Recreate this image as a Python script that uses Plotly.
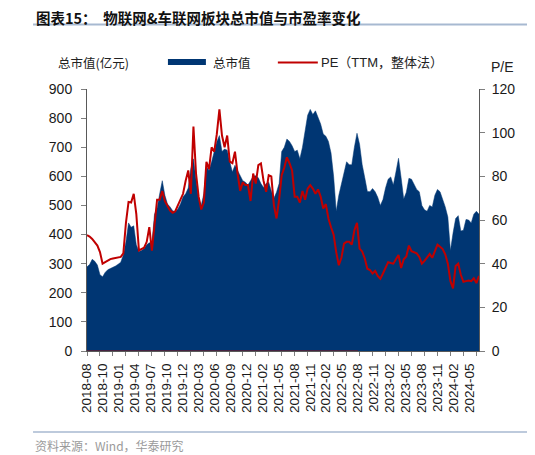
import plotly.graph_objects as go

# ---- data ----
date_labels = ["2018-08", "2018-10", "2019-01", "2019-04", "2019-07", "2019-10",
               "2019-12", "2020-03", "2020-06", "2020-09", "2020-12", "2021-02",
               "2021-05", "2021-08", "2021-11", "2022-02", "2022-05", "2022-08",
               "2022-11", "2023-02", "2023-05", "2023-08", "2023-11", "2024-02",
               "2024-05"]

market_cap = [
    289, 297, 315, 308, 295, 262, 255, 270, 279, 283,
    288, 292, 298, 305, 330, 375, 440, 425, 430, 365,
    342, 345, 352, 365, 372, 368, 470, 490, 540, 585,
    535, 505, 495, 482, 478, 488, 505, 530, 540, 560,
    627, 660, 590, 524, 500, 540, 635, 620, 650, 690,
    719, 740, 685, 694, 690, 650, 615, 638, 620, 600,
    585, 580, 570, 585, 600, 602, 595, 575, 562, 575,
    580, 550, 525, 545, 575, 685, 700, 728, 720, 705,
    685, 690, 660, 700, 760, 810, 830, 812, 825, 805,
    780, 745, 738, 720, 680, 600, 480, 535, 570, 615,
    650, 640, 640, 700, 748, 710, 640, 595, 548, 547,
    558, 547, 528, 500, 520, 560, 590, 598, 570, 615,
    662, 595, 522, 545, 593, 590, 575, 555, 547, 500,
    485, 480, 500, 495, 535, 555, 547, 522, 495, 460,
    345, 405, 455, 465, 412, 415, 452, 450, 440, 470,
    480, 470]

pe_ttm = [
    53.1, 52.4, 51.3, 49.6, 48.3, 45.3, 40.0, 40.7, 41.6, 42.1,
    42.4, 42.7, 42.9, 43.1, 44.7, 58.7, 68.3, 68.0, 72.0, 62.7,
    46.1, 46.7, 47.3, 50.0, 56.7, 46.0, 58.0, 69.3, 69.3, 73.3,
    68.7, 66.7, 64.3, 63.3, 64.0, 66.7, 69.1, 72.0, 78.0, 82.7,
    72.0, 102.8, 81.3, 70.7, 64.8, 68.0, 86.7, 83.3, 93.3, 91.3,
    99.3, 110.7, 98.7, 93.3, 98.7, 86.7, 86.0, 91.3, 81.3, 73.3,
    77.3, 76.0, 76.0, 68.7, 81.3, 76.7, 85.1, 85.9, 78.0, 72.9,
    80.5, 80.0, 66.7, 60.7, 69.3, 80.5, 84.0, 88.7, 86.0, 82.7,
    70.7, 70.7, 68.0, 73.3, 69.3, 74.4, 76.0, 74.4, 72.0, 74.0,
    70.7, 65.3, 67.3, 60.7, 56.7, 53.3, 45.3, 39.3, 42.7, 49.2,
    50.0, 50.0, 48.7, 55.3, 58.7, 46.9, 45.6, 42.4, 37.7, 37.1,
    35.5, 36.7, 34.4, 33.1, 35.5, 38.0, 40.7, 40.3, 40.0, 42.0,
    44.0, 38.0, 42.0, 43.3, 48.3, 45.7, 45.3, 44.7, 43.1, 40.0,
    41.3, 43.1, 44.4, 42.7, 46.0, 48.7, 47.7, 46.7, 44.3, 40.0,
    32.0, 28.7, 38.9, 40.0, 34.9, 31.7, 32.0, 32.3, 32.0, 33.3,
    31.1, 34.4]

cap_ticks = [0, 100, 200, 300, 400, 500, 600, 700, 800, 900]
pe_ticks = [0, 20, 40, 60, 80, 100, 120]

# ---- style ----
BLUE = "#003673"
RED = "#C00000"
AXIS = "#595959"
TICK = "#7f7f7f"
FONT = "Liberation Sans, Arial, Noto Sans CJK SC, sans-serif"
CJK = "Noto Sans CJK SC, sans-serif"

# page has an 8px body margin: the figure starts at (8, 8) in the window
OFF = 8
W, H = 535 - OFF, 455 - OFF
ML, MR, MT, MB = 87 - OFF, 55.7, 89 - OFF, 104
PW, PH = W - ML - MR, H - MT - MB

def fx(px):
    return (px - OFF - ML) / PW

def fy(py):
    return (H - MB - (py - OFF)) / PH

# x positions: trading-day index, sampled every 10 days
step = 10
xs = [i * step for i in range(len(market_cap))]
label_step = 61.4
tickvals = [k * label_step for k in range(len(date_labels))]

fig = go.Figure()
fig.add_trace(go.Scatter(
    x=xs, y=market_cap, mode="lines", fill="tozeroy",
    line=dict(color=BLUE, width=0.5), fillcolor=BLUE,
    name="总市值", showlegend=False, yaxis="y"))
fig.add_trace(go.Scatter(
    x=xs, y=pe_ttm, mode="lines",
    line=dict(color=RED, width=2),
    name="PE（TTM，整体法）", showlegend=False, yaxis="y2"))

fig.update_layout(
    width=W, height=H,
    margin=dict(l=ML, r=MR, t=MT, b=MB, pad=0),
    paper_bgcolor="white", plot_bgcolor="white",
    font=dict(family=FONT, color="#1a1a1a", size=14),
    xaxis=dict(
        range=[xs[0], xs[-1]], tickmode="array", tickvals=tickvals,
        ticktext=date_labels, tickangle=-90, ticks="",
        tickfont=dict(size=13.5, family=FONT, color="#1a1a1a"),
        showline=True, linecolor=AXIS, linewidth=1,
        showgrid=False, zeroline=False, ticklabelstandoff=6,
        minor=dict(tickmode="linear", tick0=0, dtick=50, ticks="outside",
                   ticklen=4, tickcolor=TICK, tickwidth=1, showgrid=False),
    ),
    yaxis=dict(
        range=[0, 900], tickmode="array", tickvals=cap_ticks,
        ticks="outside", ticklen=5, tickcolor=TICK,
        showline=True, linecolor=AXIS, linewidth=1,
        showgrid=False, zeroline=False,
        tickfont=dict(size=14, family=FONT, color="#1a1a1a"),
        ticklabelstandoff=6,
    ),
    yaxis2=dict(
        range=[0, 120], tickmode="array", tickvals=pe_ticks,
        overlaying="y", side="right",
        ticks="outside", ticklen=5, tickcolor=TICK,
        showline=True, linecolor=AXIS, linewidth=1,
        showgrid=False, zeroline=False,
        tickfont=dict(size=14, family=FONT, color="#1a1a1a"),
        ticklabelstandoff=4,
    ),
)

shapes = [
    # title underline
    dict(type="line", xref="paper", yref="paper", x0=fx(33), x1=fx(530),
         y0=fy(24.5), y1=fy(24.5), line=dict(color="#A7B9D1", width=2)),
    # footer line
    dict(type="line", xref="paper", yref="paper", x0=fx(33), x1=fx(530),
         y0=fy(432), y1=fy(432), line=dict(color="#A7B9D1", width=1.5)),
    # legend: area swatch
    dict(type="rect", xref="paper", yref="paper", x0=fx(168), x1=fx(206),
         y0=fy(65), y1=fy(59), fillcolor=BLUE, line=dict(width=0)),
    # legend: line swatch
    dict(type="line", xref="paper", yref="paper", x0=fx(278), x1=fx(318),
         y0=fy(62.5), y1=fy(62.5), line=dict(color=RED, width=2)),
    # dark red trace along the zero line (up to the 2022-08 label)
    dict(type="line", xref="x", yref="y", x0=xs[0], x1=tickvals[17],
         y0=0, y1=0, layer="above", line=dict(color="#8B1010", width=1.2)),
]

annotations = [
    dict(text="<b>图表15：  物联网&车联网板块总市值与市盈率变化</b>",
         xref="paper", yref="paper", x=fx(35), y=fy(17.5),
         xanchor="left", yanchor="middle", showarrow=False, borderpad=0,
         font=dict(family=CJK, size=14.5, color="#111111")),
    dict(text="总市值(亿元)", xref="paper", yref="paper", x=fx(56), y=fy(62),
         xanchor="left", yanchor="middle", showarrow=False,
         font=dict(family=CJK, size=12.5, color="#222222")),
    dict(text="总市值", xref="paper", yref="paper", x=fx(211), y=fy(62),
         xanchor="left", yanchor="middle", showarrow=False,
         font=dict(family=CJK, size=12.5, color="#222222")),
    dict(text="PE（TTM，整体法）", xref="paper", yref="paper", x=fx(319), y=fy(62),
         xanchor="left", yanchor="middle", showarrow=False,
         font=dict(family=FONT, size=13, color="#222222")),
    dict(text="P/E", xref="paper", yref="paper", x=fx(489), y=fy(67),
         xanchor="left", yanchor="middle", showarrow=False,
         font=dict(family=FONT, size=14, color="#222222")),
    dict(text="资料来源：Wind，华泰研究", xref="paper", yref="paper",
         x=fx(33), y=fy(445), xanchor="left", yanchor="middle", showarrow=False,
         font=dict(family=CJK, size=12, color="#9a9a9a")),
]

fig.update_layout(shapes=shapes, annotations=annotations)
fig.write_html("out.html")
